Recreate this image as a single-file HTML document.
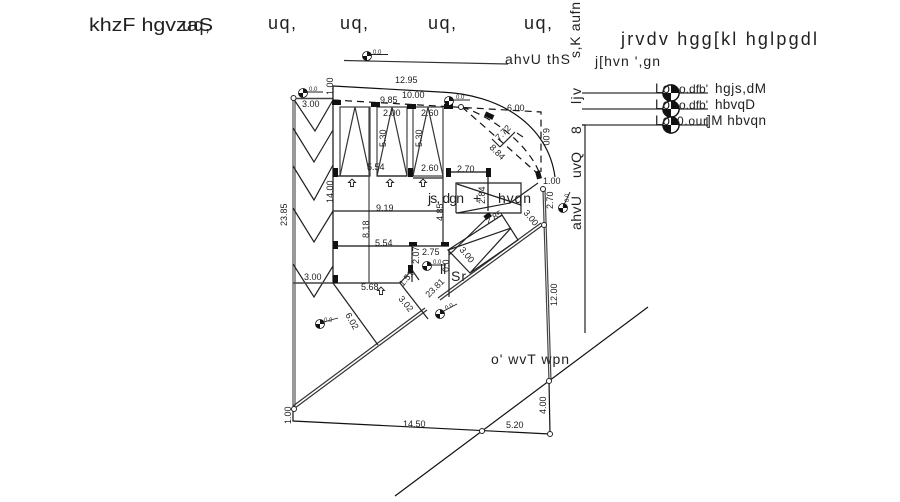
<!DOCTYPE html>
<html><head><meta charset="utf-8"><style>
html,body{margin:0;padding:0;background:#fff;width:900px;height:502px;overflow:hidden}
svg{display:block}
text{font-family:"Liberation Sans",sans-serif;fill:#222}
.d{font-size:9px}
.s{font-size:6px}
.m{font-size:14px}
.b{font-size:18px}
.l{font-size:13.5px}
</style></head><body>
<svg width="900" height="502" viewBox="0 0 900 502" xmlns="http://www.w3.org/2000/svg">
<defs>
<g id="sym"><circle r="4.500" fill="#fff" stroke="#111" stroke-width=".8"/><path d="M0 0V-4.500A4.500 4.500 0 0 1 4.500 0ZM0 0V4.500A4.500 4.500 0 0 1-4.500 0Z" fill="#111"/></g>
<path id="up" d="M0-4L3.500-.5H1.500V3.500H-1.500V-.5H-3.500Z" fill="#fff" stroke="#222" stroke-width=".9"/>
</defs>
<g fill="none" stroke="#222" stroke-width="1.200">
<!-- outer -->
<path d="M293 98V409M295 98V409" stroke="#555"/>
<path d="M293 409V421L550 434" stroke="#111"/>
<path d="M293 98.500H333" stroke-width="1.600" stroke="#444"/>
<path d="M333 86L440 92C500 94 548 125 555 177" stroke="#111"/>
<path d="M333 86V283" stroke="#111"/>
<path d="M543 190L549 381M545 190L551 381" stroke="#444"/>
<path d="M549 381L550 434" stroke="#111"/>
<path d="M395 496L648 307" stroke="#111"/>
<path d="M295 408L427 310M293 406L425 308" stroke="#333"/>
<path d="M440 300L543 225M438 298L541 223" stroke="#333"/>
<path d="M344 60.500L508 64" stroke="#333"/>
<path d="M582 93H708M582 109H708M582 125H708M707 117V127" stroke="#333"/>
<path d="M582 125H585V333" stroke="#222"/>
<!-- chevrons -->
<path d="M293 98L315 131L333 100M293 128L314 162L333 130M293 166L314 200L333 165M293 208L314 242L333 211M293 264L314 297L333 266" stroke="#222"/>
<!-- interior -->
<path d="M293 283H400" stroke="#444" stroke-width="1.500"/>
<path d="M333 283L378 345" stroke="#222"/>
<path d="M340 107H370V176H340ZM377 107H407V176H377ZM413 107H443V176H413Z" stroke="#444"/>
<path d="M340 176L355 107L370 176M377 176L392 107L407 176M413 176L428 107L443 176" stroke="#333"/>
<path d="M333 176H370M377 176H407M413 178H443" stroke="#222"/>
<path d="M369 107V283" stroke="#444"/>
<path d="M333 211H443" stroke="#222"/>
<path d="M333 246H449" stroke="#111"/>
<path d="M443 176V246M412 246V282" stroke="#222"/>
<path d="M448 172H488V211" stroke="#111"/>
<path d="M456 213V183H521V213H456" stroke="#222"/>
<path d="M457 184L521 205M457 213L510 203L538 183" stroke="#222"/>
<path d="M448 250L502 215L518 240L470 273L448 250L511 228L470 273" stroke="#222"/>
<path d="M449 250V297" stroke="#222"/>
<path d="M449 255L488 217" stroke="#222"/>
<path d="M400 283L412 270M400 283L428 319" stroke="#222"/>
<path d="M412 270L419 280" stroke="#222"/>
<!-- dashed -->
<g stroke-dasharray="7 5" stroke="#111">
<path d="M333 100L420 105L541 112V172"/>
<path d="M462 107C495 118 528 145 539 172"/>
<path d="M462 107L537 173"/>
</g>
<path d="M500 147L515 132M517 133L523 137M492 139L500 147" stroke="#222"/>
</g>
<!-- wall blocks -->
<g fill="#111">
<rect x="332" y="100" width="9" height="5"/><rect x="371" y="102" width="9" height="5"/><rect x="407" y="104" width="9" height="5"/><rect x="444" y="104" width="9" height="5"/>
<rect x="333" y="168" width="5" height="9"/><rect x="408" y="168" width="5" height="9"/>
<rect x="446" y="168" width="5" height="9"/><rect x="486" y="168" width="5" height="9"/>
<rect x="333" y="241" width="5" height="8"/><rect x="409" y="242" width="8" height="4"/><rect x="441" y="242" width="8" height="4"/>
<rect x="333" y="275" width="5" height="8"/><rect x="408" y="265" width="5" height="8"/>
<rect x="484" y="214" width="7" height="5" transform="rotate(-35 487 216)"/>
<rect x="485" y="113" width="9" height="5" transform="rotate(25 489 115)"/>
<rect x="536" y="171" width="5" height="8" transform="rotate(-15 538 175)"/>
</g>
<!-- nodes -->
<g fill="#fff" stroke="#222" stroke-width="1">
<circle cx="293.500" cy="98" r="2.500"/><circle cx="461" cy="107" r="2.500"/><circle cx="543" cy="189" r="2.500"/><circle cx="544" cy="225" r="2.500"/>
<circle cx="294" cy="409" r="2.500"/><circle cx="549" cy="381" r="2.500"/><circle cx="550" cy="434" r="2.500"/><circle cx="482" cy="431" r="2.500"/>
</g>
<!-- symbols -->
<use href="#sym" x="303" y="93"/><use href="#sym" x="367" y="56"/><use href="#sym" x="449" y="101"/><use href="#sym" x="563" y="208"/>
<use href="#sym" x="427" y="266"/><use href="#sym" x="440" y="314"/><use href="#sym" x="320" y="324"/>
<g transform="translate(671 93) scale(1.800)"><use href="#sym"/></g>
<g transform="translate(671 109) scale(1.800)"><use href="#sym"/></g>
<g transform="translate(671 125) scale(1.800)"><use href="#sym"/></g>
<g stroke="#222" stroke-width=".9" fill="none"><path d="M367 54.500H388M303 92H323M449 100H470M427 265H446M440 313L457 304M320 323L338 318M563 207L570 192"/></g>
<text class="s" x="309" y="91">0.0</text><text class="s" x="373" y="54">0.0</text><text class="s" x="456" y="99">0.0</text><text class="s" x="433" y="264">0.0</text><text class="s" x="324" y="322">0.0</text>
<text class="s" x="446" y="310" transform="rotate(-25 446 310)">0.0</text>
<text class="s" x="569" y="202" transform="rotate(-90 569 202)">0.0</text>
<!-- arrows -->
<use href="#up" x="352" y="183"/><use href="#up" x="390" y="183"/><use href="#up" x="423" y="183"/><use href="#up" x="381" y="291"/>
<!-- large labels -->
<text class="b" x="89" y="31" textLength="124" lengthAdjust="spacingAndGlyphs">khzF hgvzaS</text>
<text class="b" x="182" y="31" textLength="28">uq,</text>
<text class="b" x="268" y="29" textLength="28">uq,</text>
<text class="b" x="340" y="29" textLength="28">uq,</text>
<text class="b" x="428" y="29" textLength="28">uq,</text>
<text class="b" x="524" y="29" textLength="28">uq,</text>
<text class="b" x="621" y="45" textLength="196">jrvdv hgg[kl hglpgdl</text>
<text class="m" x="505" y="64" textLength="65">ahvU thS</text>
<text class="m" x="595" y="66" textLength="65">j[hvn ',gn</text>
<text class="m" transform="translate(580 58) rotate(-90)" textLength="56">s,K aufn</text>
<text class="m" x="428" y="203" textLength="36">js, dgn</text>
<text class="m" x="473" y="203">+</text>
<text class="m" x="498" y="203" textLength="33">hvqn</text>
<text class="m" x="491" y="364" textLength="78">o' wvT wpn</text>
<text class="m" x="440" y="274">ll</text><text class="m" x="451" y="281" textLength="15">Sr</text>
<text class="d" x="449" y="272" transform="rotate(-90 449 272)">0.0</text>
<!-- legend -->
<text class="l" x="655" y="93">Lo</text><text class="l" x="655" y="109">Lo</text><text class="l" x="655" y="125">Lo</text>
<text style="font-size:12px" x="679" y="93" textLength="29">o.dfb'</text>
<text style="font-size:12px" x="679" y="109" textLength="29">o.dfb'</text>
<text style="font-size:12px" x="677" y="125" textLength="30">0.our</text>
<text class="l" x="715" y="93" textLength="51">hgjs,dM</text>
<text class="l" x="715" y="109" textLength="40">hbvqD</text>
<text class="l" x="707" y="125" textLength="59">]M hbvqn</text>
<text class="m" transform="translate(581 104) rotate(-90)" textLength="16">ljv</text>
<text class="m" transform="translate(581 134) rotate(-90)">8</text>
<text class="m" transform="translate(581 178) rotate(-90)" textLength="26">uvQ</text>
<text class="m" transform="translate(581 230) rotate(-90)" textLength="34">ahvU</text>
<!-- dimensions -->
<g class="d">
<text x="395" y="83">12.95</text><text x="402" y="98">10.00</text><text x="380" y="103">9.85</text>
<text x="383" y="116">2.00</text><text x="421" y="116">2.60</text>
<text x="367" y="170">5.54</text><text x="421" y="171">2.60</text><text x="457" y="172">2.70</text>
<text x="507" y="111">6.00</text><text x="302" y="107">3.00</text>
<text x="376" y="211">9.19</text><text x="375" y="246">5.54</text><text x="422" y="255">2.75</text>
<text x="304" y="280">3.00</text><text x="361" y="290">5.68</text>
<text x="403" y="427">14.50</text><text x="506" y="428">5.20</text><text x="543" y="184">1.00</text>
<text transform="translate(333 95) rotate(-90)">1.00</text>
<text transform="translate(386 147) rotate(-90)">5.30</text>
<text transform="translate(422 147) rotate(-90)">5.30</text>
<text transform="translate(333 203) rotate(-90)">14.00</text>
<text transform="translate(287 226) rotate(-90)">23.85</text>
<text transform="translate(369 238) rotate(-90)">8.18</text>
<text transform="translate(443 221) rotate(-90)">4.85</text>
<text transform="translate(419 264) rotate(-90)">2.07</text>
<text transform="translate(485 204) rotate(-90)">2.84</text>
<text transform="translate(553 209) rotate(-90)">2.70</text>
<text transform="translate(557 306) rotate(-90)">12.00</text>
<text transform="translate(546 414) rotate(-90)">4.00</text>
<text transform="translate(291 424) rotate(-90)">1.00</text>
<text transform="translate(543 128) rotate(90)">6.00</text>
<text transform="translate(403 287) rotate(-50)">1.51</text>
<text transform="translate(398 299) rotate(50)">3.02</text>
<text transform="translate(345 315) rotate(60)">6.02</text>
<text transform="translate(429 298) rotate(-45)">23.81</text>
<text transform="translate(459 250) rotate(50)">3.00</text>
<text transform="translate(488 224) rotate(-30)">2.85</text>
<text transform="translate(523 213) rotate(50)">3.00</text>
<text transform="translate(499 141) rotate(-45)">7.72</text>
<text transform="translate(489 148) rotate(45)">8.84</text>
</g>
</svg>
</body></html>
